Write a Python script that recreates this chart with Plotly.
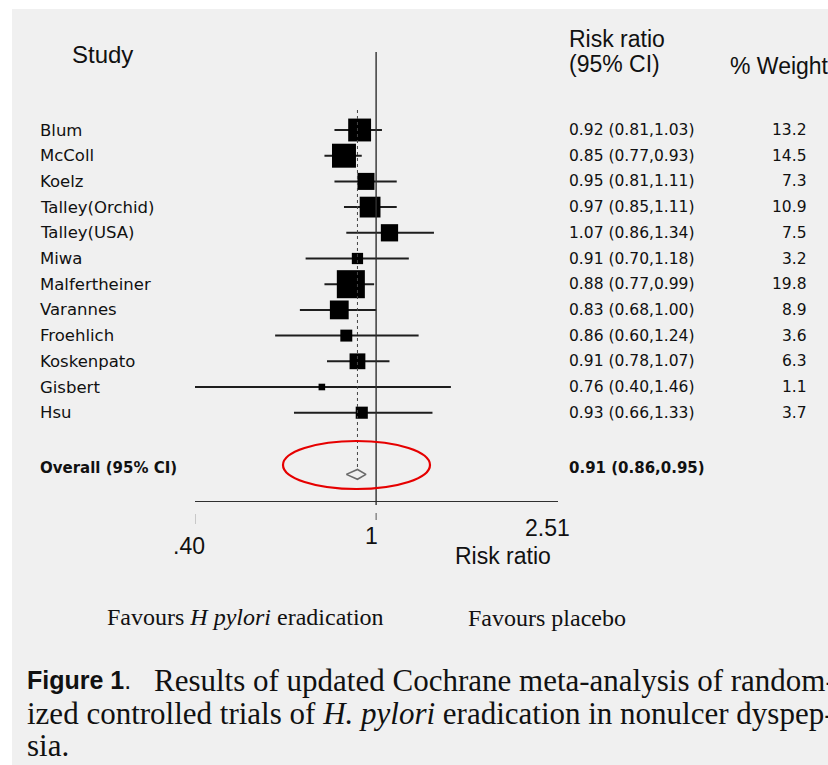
import math
import plotly.graph_objects as go

# Study-level results (risk ratio, 95% CI, % weight)
studies = ["Blum", "McColl", "Koelz", "Talley(Orchid)", "Talley(USA)", "Miwa",
           "Malfertheiner", "Varannes", "Froehlich", "Koskenpato", "Gisbert", "Hsu"]
rr = [0.92, 0.85, 0.95, 0.97, 1.07, 0.91, 0.88, 0.83, 0.86, 0.91, 0.76, 0.93]
ci_low = [0.81, 0.77, 0.81, 0.85, 0.86, 0.70, 0.77, 0.68, 0.60, 0.78, 0.40, 0.66]
ci_high = [1.03, 0.93, 1.11, 1.11, 1.34, 1.18, 0.99, 1.00, 1.24, 1.07, 1.46, 1.33]
weights = [13.2, 14.5, 7.3, 10.9, 7.5, 3.2, 19.8, 8.9, 3.6, 6.3, 1.1, 3.7]

# Pooled estimate
overall_label = "Overall (95% CI)"
overall_rr = 0.91
overall_low = 0.86
overall_high = 0.95

# Axis
x_min, x_max = 0.40, 2.51
tick_labels = [".40", "1", "2.51"]

W, H = 828, 765


def px(x):
    return x / W


def py(y):
    return 1 - y / H


ROW0, ROWH = 130.0, 25.7          # pixel centre of first row, row pitch
rows = list(range(len(studies)))
overall_row = 13.15
diamond_row = 13.4

SANS = "DejaVu Sans"
HEAD = "Liberation Sans"
SERIF = "Liberation Serif"
INK = "#111111"

fig = go.Figure()

# Confidence-interval whiskers
wx, wy = [], []
for r, lo, hi in zip(rows, ci_low, ci_high):
    wx += [lo, hi, None]
    wy += [r, r, None]
fig.add_trace(go.Scatter(x=wx, y=wy, mode="lines",
                         line=dict(color="#1e1e1e", width=2),
                         hoverinfo="skip", showlegend=False))

# Weighted squares (area proportional to weight)
fig.add_trace(go.Scatter(
    x=rr, y=rows, mode="markers",
    marker=dict(symbol="square", color="#000000", opacity=1,
                size=[6.3 * math.sqrt(w) for w in weights],
                line=dict(width=0)),
    hoverinfo="skip", showlegend=False))

# Pooled diamond (hollow)
dh = 0.19
fig.add_trace(go.Scatter(
    x=[overall_low, overall_rr, overall_high, overall_rr, overall_low],
    y=[diamond_row, diamond_row - dh, diamond_row, diamond_row + dh, diamond_row],
    mode="lines", line=dict(color="#6a6a6a", width=1.6),
    hoverinfo="skip", showlegend=False))

shapes = [
    # scanned-page background
    dict(type="rect", xref="paper", yref="paper", x0=px(12), x1=1, y0=0, y1=py(9),
         fillcolor="#f0f0f0", line=dict(width=0), layer="below"),
    # line of no effect
    dict(type="line", xref="x", yref="paper", x0=1, x1=1, y0=py(52), y1=py(505),
         line=dict(color="#303030", width=1.4)),
    # pooled estimate reference line
    dict(type="line", xref="x", yref="paper", x0=overall_rr, x1=overall_rr,
         y0=py(110), y1=py(470), line=dict(color="#444444", width=1, dash="dot")),
    # small tick marks below the axis
    dict(type="line", xref="x", yref="paper", x0=x_min, x1=x_min, y0=py(514), y1=py(524),
         line=dict(color="#c8c8c8", width=2)),
    dict(type="line", xref="x", yref="paper", x0=1, x1=1, y0=py(513), y1=py(520),
         line=dict(color="#555555", width=1)),
    # red highlight ellipse around the pooled diamond
    dict(type="circle", xref="paper", yref="paper", x0=px(283), x1=px(430),
         y0=py(489), y1=py(441), line=dict(color="#e60000", width=2.2)),
]

ann = []


def text(x, y, s, size, family=SANS, xanchor="left", yref="paper", xref="paper",
         color=INK, xshift=0):
    ann.append(dict(x=x, y=y, xref=xref, yref=yref, text=s, showarrow=False,
                    xanchor=xanchor, yanchor="middle", xshift=xshift,
                    font=dict(family=family, size=size, color=color)))


# Column headers
text(px(102), py(55), "Study", 24, HEAD, xanchor="center")
text(px(567), py(39), "Risk ratio", 23, HEAD)
text(px(567), py(64), "(95% CI)", 23, HEAD)
text(px(728), py(66), "% Weight", 23, HEAD)

# Study rows
for r, name, v, lo, hi, w in zip(rows, studies, rr, ci_low, ci_high, weights):
    text(px(38), r, name, 16.5, yref="y")
    text(px(567), r, f"{v:.2f} ({lo:.2f},{hi:.2f})", 15.5, yref="y")
    text(px(809), r, f"{w:.1f}", 15.5, yref="y", xanchor="right")

text(px(38), overall_row, f"<b>{overall_label}</b>", 15, yref="y")
text(px(567), overall_row,
     f"<b>{overall_rr:.2f} ({overall_low:.2f},{overall_high:.2f})</b>", 15, yref="y")

# Axis labels (log axis: annotation x is given in log10 units)
text(math.log10(x_min), py(546), tick_labels[0], 23, HEAD, xanchor="center", xref="x", xshift=-6)
text(math.log10(1), py(536), tick_labels[1], 23, HEAD, xanchor="center", xref="x", xshift=-5)
text(math.log10(x_max), py(528), tick_labels[2], 23, HEAD, xanchor="right", xref="x", xshift=14)
text(px(453), py(556), "Risk ratio", 23, HEAD)

# Direction labels
text(px(105), py(617), "Favours <i>H pylori</i> eradication", 24, SERIF)
text(px(466), py(618), "Favours placebo", 24, SERIF)

# Caption
text(px(25), py(680), '<b>Figure 1</b>.', 25, "Liberation Sans Narrow, Liberation Sans")
text(px(152), py(680), "Results of updated Cochrane meta-analysis of random-", 31, SERIF)
text(px(25), py(713), "ized controlled trials of <i>H. pylori</i> eradication in nonulcer dyspep-", 31, SERIF)
text(px(25), py(745), "sia.", 31, SERIF)

fig.update_layout(
    width=W, height=H, margin=dict(l=0, r=0, t=0, b=0),
    paper_bgcolor="white", plot_bgcolor="rgba(0,0,0,0)",
    shapes=shapes, annotations=ann, showlegend=False,
    xaxis=dict(type="log", range=[math.log10(x_min), math.log10(x_max)],
               domain=[px(195), px(558)], anchor="free", position=py(501),
               showline=True, linecolor="#303030", linewidth=1.4,
               showgrid=False, zeroline=False, showticklabels=False, ticks=""),
    yaxis=dict(range=[(H - ROW0) / ROWH, -ROW0 / ROWH], domain=[0, 1],
               visible=False, showgrid=False, zeroline=False),
)

fig.write_html("out.html")
